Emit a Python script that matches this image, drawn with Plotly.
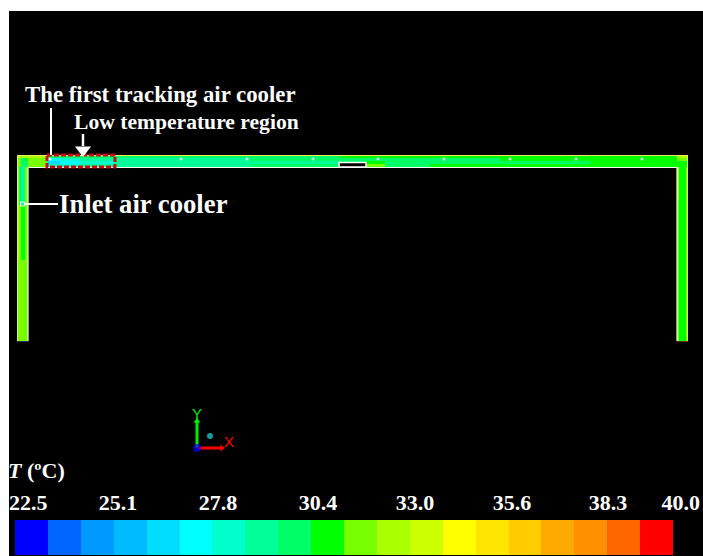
import plotly.graph_objects as go

# Colour legend
band_edges = [22.5, 23.375, 24.25, 25.125, 26.0, 26.875, 27.75, 28.625, 29.5, 30.375, 31.25,
              32.125, 33.0, 33.875, 34.75, 35.625, 36.5, 37.375, 38.25, 39.125, 40.0]
band_colors = ["#0000ff", "#0066ff", "#0099ff", "#00bbff", "#00ddff", "#00ffff", "#00ffcc",
               "#00ff99", "#00ff66", "#00ff00", "#77ff00", "#aaff00", "#ccff00", "#ffff00",
               "#ffe600", "#ffcc00", "#ffaa00", "#ff9000", "#ff6600", "#ff0000"]
band_values = [22.9, 23.8, 24.7, 25.6, 26.4, 27.3, 28.2, 29.1, 29.9, 30.8, 31.7, 32.6, 33.4,
               34.3, 35.2, 36.1, 36.9, 37.8, 38.7, 39.6]
tick_labels = ["22.5", "25.1", "27.8", "30.4", "33.0", "35.6", "38.3", "40.0"]
tick_label_pos = [22.85, 25.24, 27.9, 30.56, 33.14, 35.72, 38.27, 40.21]

# Temperature field, top duct
top_x = [17, 21, 25, 28, 47, 60, 80, 115, 180, 250, 340, 366, 385, 430, 500, 590, 677, 688]
top_y = [155, 156, 158, 161, 164, 167]
top_row0 = [34.3, 34.3, 34.3, 34.3, 34.3, 34.3, 34.3, 34.3, 34.3, 34.3, 34.3, 34.3, 34.3, 34.3, 34.3, 34.3, 34.3]
top_row1 = [32.6, 32.6, 32.6, 32.6, 29.9, 29.9, 29.9, 29.9, 29.9, 29.9, 30.8, 30.8, 30.8, 30.8, 30.8, 30.8, 32.6]
top_row2 = [31.7, 29.9, 30.8, 31.7, 27.3, 28.2, 29.1, 29.1, 29.1, 29.9, 29.9, 29.9, 29.9, 29.9, 30.8, 30.8, 31.7]
top_row3 = [31.7, 29.9, 29.9, 31.7, 26.4, 27.3, 28.2, 29.1, 29.1, 29.1, 29.9, 30.8, 29.9, 29.9, 29.9, 30.8, 30.8]
top_row4 = [31.7, 29.9, 29.9, 31.7, 28.2, 28.2, 29.1, 29.1, 29.1, 29.9, 29.9, 31.7, 29.9, 30.8, 30.8, 30.8, 30.8]

# Temperature field, left leg
left_x = [17, 19, 21, 25, 28]
left_y = [167, 205, 260, 341]
left_row0 = [32.6, 29.9, 29.1, 31.7]
left_row1 = [32.6, 31.7, 30.8, 31.7]
left_row2 = [31.7, 31.7, 31.7, 31.7]

# Temperature field, right leg
right_x = [677, 679, 686, 688]
right_y = [167, 200, 341]
right_row0 = [32.6, 30.8, 31.7]
right_row1 = [31.7, 30.8, 31.7]

# Probe points along the duct
probe_x = [50, 181, 247, 313, 378, 444, 510, 576, 642]
probe_y = [159, 159, 159, 159, 159, 159, 159, 159, 159]

# Stepped colour scale
colorscale = []
T_min, T_max = band_edges[0], band_edges[-1]
for i, c in enumerate(band_colors):
    colorscale.append([(band_edges[i] - T_min) / (T_max - T_min), c])
    colorscale.append([(band_edges[i + 1] - T_min) / (T_max - T_min), c])

def field(x, y, z):
    return go.Heatmap(x=x, y=y, z=z, zmin=T_min, zmax=T_max, colorscale=colorscale,
                      showscale=False, hoverinfo="skip")

fig = go.Figure()
fig.add_trace(field(top_x, top_y, [top_row0, top_row1, top_row2, top_row3, top_row4]))
fig.add_trace(field(left_x, left_y, [left_row0, left_row1, left_row2]))
fig.add_trace(field(right_x, right_y, [right_row0, right_row1]))

# Colour legend bar on its own axes
fig.add_trace(go.Heatmap(x=band_edges, y=[0, 1], z=[band_values], zmin=T_min, zmax=T_max,
                         colorscale=colorscale, showscale=False, xaxis="x2", yaxis="y2",
                         hoverinfo="skip"))

def line(x, y, color, width):
    fig.add_trace(go.Scatter(x=x, y=y, mode="lines", line=dict(color=color, width=width),
                             hoverinfo="skip", showlegend=False))

# Duct inner wall, lower end caps
line([28, 28, 677, 677], [341, 167.5, 167.5, 341], "#f4fff0", 1.2)
line([17.5, 17.5, 687.5, 687.5], [341, 155.5, 155.5, 341], "#e8f060", 1)
line([17, 28], [341.5, 341.5], "#303060", 1)
line([677, 688], [341.5, 341.5], "#703010", 1)

# Obstacle: black box with white outline
fig.add_trace(go.Scatter(x=[339, 339, 366, 366, 339], y=[167, 162.5, 162.5, 167, 167], mode="lines",
                         fill="toself", fillcolor="#000000",
                         line=dict(color="#ffffff", width=1.5),
                         hoverinfo="skip", showlegend=False))

# Red dashed frame
fig.add_trace(go.Scatter(x=[47, 115, 115, 47, 47], y=[155, 155, 167, 167, 155], mode="lines",
                         line=dict(color="#cc0a14", width=3, dash="5px 2px"),
                         hoverinfo="skip", showlegend=False))

# Callout lines
line([51, 51], [108, 155], "#ffffff", 2)
line([83, 83], [134, 146], "#ffffff", 2.5)
line([24, 58], [204, 204], "#ffffff", 2)
fig.add_trace(go.Scatter(x=[83], y=[150], mode="markers",
                         marker=dict(symbol="triangle-down", size=14, color="#ffffff"),
                         hoverinfo="skip", showlegend=False))
fig.add_trace(go.Scatter(x=[22.5], y=[204], mode="markers",
                         marker=dict(symbol="square-open", size=4, color="#ffffff", line=dict(width=1)),
                         hoverinfo="skip", showlegend=False))
fig.add_trace(go.Scatter(x=probe_x, y=probe_y, mode="markers",
                         marker=dict(symbol="circle", size=3, color="#d8ffe8"),
                         hoverinfo="skip", showlegend=False))

# Coordinate triad
line([197, 197], [448, 422], "#00ee00", 3)
line([197, 222], [448, 448], "#ff0000", 3)
fig.add_trace(go.Scatter(x=[197, 222], y=[421, 448], mode="markers",
                         marker=dict(symbol=["triangle-up", "triangle-right"], size=6,
                                     color=["#00ee00", "#ff0000"]),
                         hoverinfo="skip", showlegend=False))
fig.add_trace(go.Scatter(x=[197, 210], y=[448, 436], mode="markers",
                         marker=dict(symbol="circle", size=[8, 6], color=["#0000ff", "#20e0e0"],
                                     line=dict(width=0)),
                         hoverinfo="skip", showlegend=False))

def text(x, y, s, size, color="#ffffff", anchor="left", weight="bold", family="Liberation Serif", xshift=0):
    fig.add_annotation(x=x, y=y, xref="x", yref="y", text=s, showarrow=False, xanchor=anchor,
                       yanchor="middle", xshift=xshift,
                       font=dict(family=family, size=size, color=color, weight=weight))

text(23, 94, "The first tracking air cooler", 22.8)
text(72, 122, "Low temperature region", 21.6)
text(57, 204, "Inlet air cooler", 26.7)
text(9, 470, "<i>T</i> (ºC)", 22, xshift=-3)
text(197, 413, "Y", 15, color="#00ee00", anchor="center", weight="normal", family="Liberation Sans")
text(229, 441, "X", 15, color="#ff0000", anchor="center", weight="normal", family="Liberation Sans")

W, H = 703, 556
fig.update_layout(
    width=W, height=H, margin=dict(l=0, r=0, t=0, b=0), autosize=False,
    paper_bgcolor="#ffffff", plot_bgcolor="#000000", showlegend=False,
    xaxis=dict(domain=[9 / W, 1], range=[9, 703], visible=False, fixedrange=True),
    yaxis=dict(domain=[0, 545 / H], range=[556, 11], visible=False, fixedrange=True),
    xaxis2=dict(domain=[9 / W, 1], range=[22.34, 40.8], anchor="y2", side="top",
                tickmode="array", tickvals=tick_label_pos, ticktext=tick_labels,
                showgrid=False, zeroline=False, showline=False, ticks="",
                tickfont=dict(family="Liberation Serif", size=22, color="#ffffff", weight="bold"),
                ticklabelstandoff=5, fixedrange=True, tickangle=0),
    yaxis2=dict(domain=[1 / H, 36 / H], range=[0, 1], anchor="x2", visible=False, fixedrange=True),
)

fig.write_html("out.html", default_width="703px", default_height="556px",
               config={"displayModeBar": False},
               post_script="document.body.style.margin='0';")
